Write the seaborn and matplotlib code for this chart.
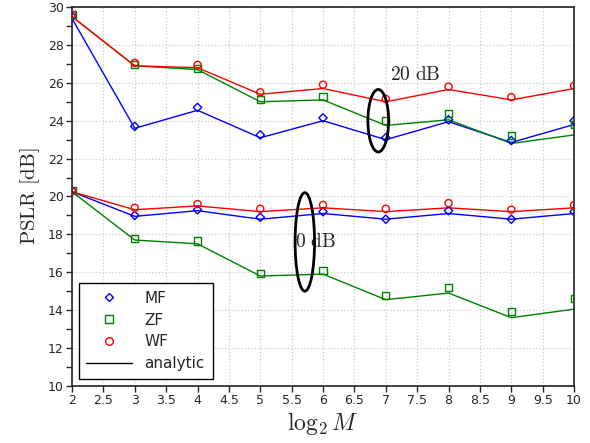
import numpy as np
import pandas as pd
import matplotlib
matplotlib.use('Agg')
import matplotlib.pyplot as plt
import seaborn as sns
from matplotlib.patches import Ellipse
from matplotlib.lines import Line2D

# log2 M
m_log = [2, 3, 4, 5, 6, 7, 8, 9, 10]

# 20 dB - simulated (markers)
mf20_sim = [29.5, 23.7, 24.7, 23.25, 24.15, 23.1, 24.05, 22.95, 24.0]
zf20_sim = [29.6, 26.95, 26.75, 25.1, 25.3, 24.0, 24.4, 23.2, 23.8]
wf20_sim = [29.6, 27.05, 26.95, 25.5, 25.9, 25.15, 25.8, 25.25, 25.85]
# 20 dB - analytic (lines)
mf20_ana = [29.4, 23.6, 24.55, 23.1, 24.0, 23.0, 23.95, 22.85, 23.8]
zf20_ana = [29.5, 26.9, 26.7, 25.0, 25.1, 23.75, 24.05, 22.8, 23.25]
wf20_ana = [29.5, 26.9, 26.8, 25.4, 25.7, 25.0, 25.65, 25.1, 25.7]

# 0 dB - simulated
mf0_sim = [20.3, 19.0, 19.3, 18.9, 19.2, 18.8, 19.25, 18.8, 19.2]
zf0_sim = [20.3, 17.8, 17.65, 15.95, 16.1, 14.75, 15.2, 13.95, 14.6]
wf0_sim = [20.3, 19.4, 19.6, 19.35, 19.55, 19.35, 19.65, 19.3, 19.55]
# 0 dB - analytic
mf0_ana = [20.25, 18.95, 19.25, 18.8, 19.1, 18.8, 19.1, 18.8, 19.1]
zf0_ana = [20.25, 17.7, 17.5, 15.8, 15.9, 14.55, 14.9, 13.6, 14.05]
wf0_ana = [20.25, 19.3, 19.5, 19.2, 19.4, 19.2, 19.4, 19.2, 19.4]

colors = {'MF': '#0000ff', 'ZF': '#008000', 'WF': '#ff0000'}
markers = {'MF': 'D', 'ZF': 's', 'WF': 'o'}

sim = {'MF': [mf20_sim, mf0_sim], 'ZF': [zf20_sim, zf0_sim], 'WF': [wf20_sim, wf0_sim]}
ana = {'MF': [mf20_ana, mf0_ana], 'ZF': [zf20_ana, zf0_ana], 'WF': [wf20_ana, wf0_ana]}

sns.set_style('ticks')
plt.rcParams['mathtext.fontset'] = 'cm'

fig = plt.figure(figsize=(5.9, 4.43), dpi=100)
ax = fig.add_axes([0.122, 0.129, 0.851, 0.855])

for name in ['MF', 'ZF', 'WF']:
    for a_vals in ana[name]:
        df = pd.DataFrame({'x': m_log, 'y': a_vals})
        sns.lineplot(data=df, x='x', y='y', color=colors[name], lw=1.0, ax=ax)
    for s_vals in sim[name]:
        df = pd.DataFrame({'x': m_log, 'y': s_vals})
        sz = 18 if name == 'MF' else 26
        sns.scatterplot(data=df, x='x', y='y', marker=markers[name], s=sz,
                        facecolor='none', edgecolor=colors[name], linewidth=1.0,
                        ax=ax, zorder=3)

ax.set_xlim(2, 10)
ax.set_ylim(10, 30)
ax.set_xticks(np.arange(2, 10.01, 0.5))
ax.set_xticklabels(['2', '2.5', '3', '3.5', '4', '4.5', '5', '5.5', '6', '6.5',
                    '7', '7.5', '8', '8.5', '9', '9.5', '10'])
ax.set_yticks(np.arange(10, 30.1, 2))
ax.set_yticks(np.arange(11, 30, 2), minor=True)
ax.tick_params(axis='both', labelsize=9, length=4, width=1, direction='out', pad=2)
ax.tick_params(axis='y', which='minor', length=4, width=1)
ax.grid(True, which='major', linestyle=':', color='#cccccc', lw=0.9)
for sp in ax.spines.values():
    sp.set_linewidth(1.2)
    sp.set_color('#222222')

ax.set_xlabel(r'$\log_2 M$', fontsize=17, labelpad=2)
ax.set_ylabel(r'$\mathrm{PSLR\ [dB]}$', fontsize=15, labelpad=4)

ax.add_patch(Ellipse((6.88, 24.0), 0.33, 3.3, angle=0, fill=False, lw=2, color='black', zorder=4))
ax.text(7.47, 26.45, r'$\mathrm{20\ dB}$', fontsize=14, ha='center', va='center')
ax.add_patch(Ellipse((5.71, 17.6), 0.31, 5.2, angle=0, fill=False, lw=2, color='black', zorder=4))
ax.text(5.56, 17.6, r'$\mathrm{0\ dB}$', fontsize=14, ha='left', va='center')

handles = [
    Line2D([], [], ls='none', marker='D', ms=4.5, mfc='none', mec=colors['MF'], mew=1),
    Line2D([], [], ls='none', marker='s', ms=5.5, mfc='none', mec=colors['ZF'], mew=1),
    Line2D([], [], ls='none', marker='o', ms=5.5, mfc='none', mec=colors['WF'], mew=1),
    Line2D([], [], color='black', lw=1),
]
leg = ax.legend(handles, ['MF', 'ZF', 'WF', 'analytic'], loc='lower left',
                bbox_to_anchor=(0.0, 0.0), borderaxespad=0.45, fontsize=11,
                handlelength=3.0, fancybox=False, framealpha=1, edgecolor='black',
                borderpad=0.5, labelspacing=0.45, handletextpad=0.8)
leg.get_frame().set_linewidth(1.0)

fig.savefig('out.png', dpi=100)
